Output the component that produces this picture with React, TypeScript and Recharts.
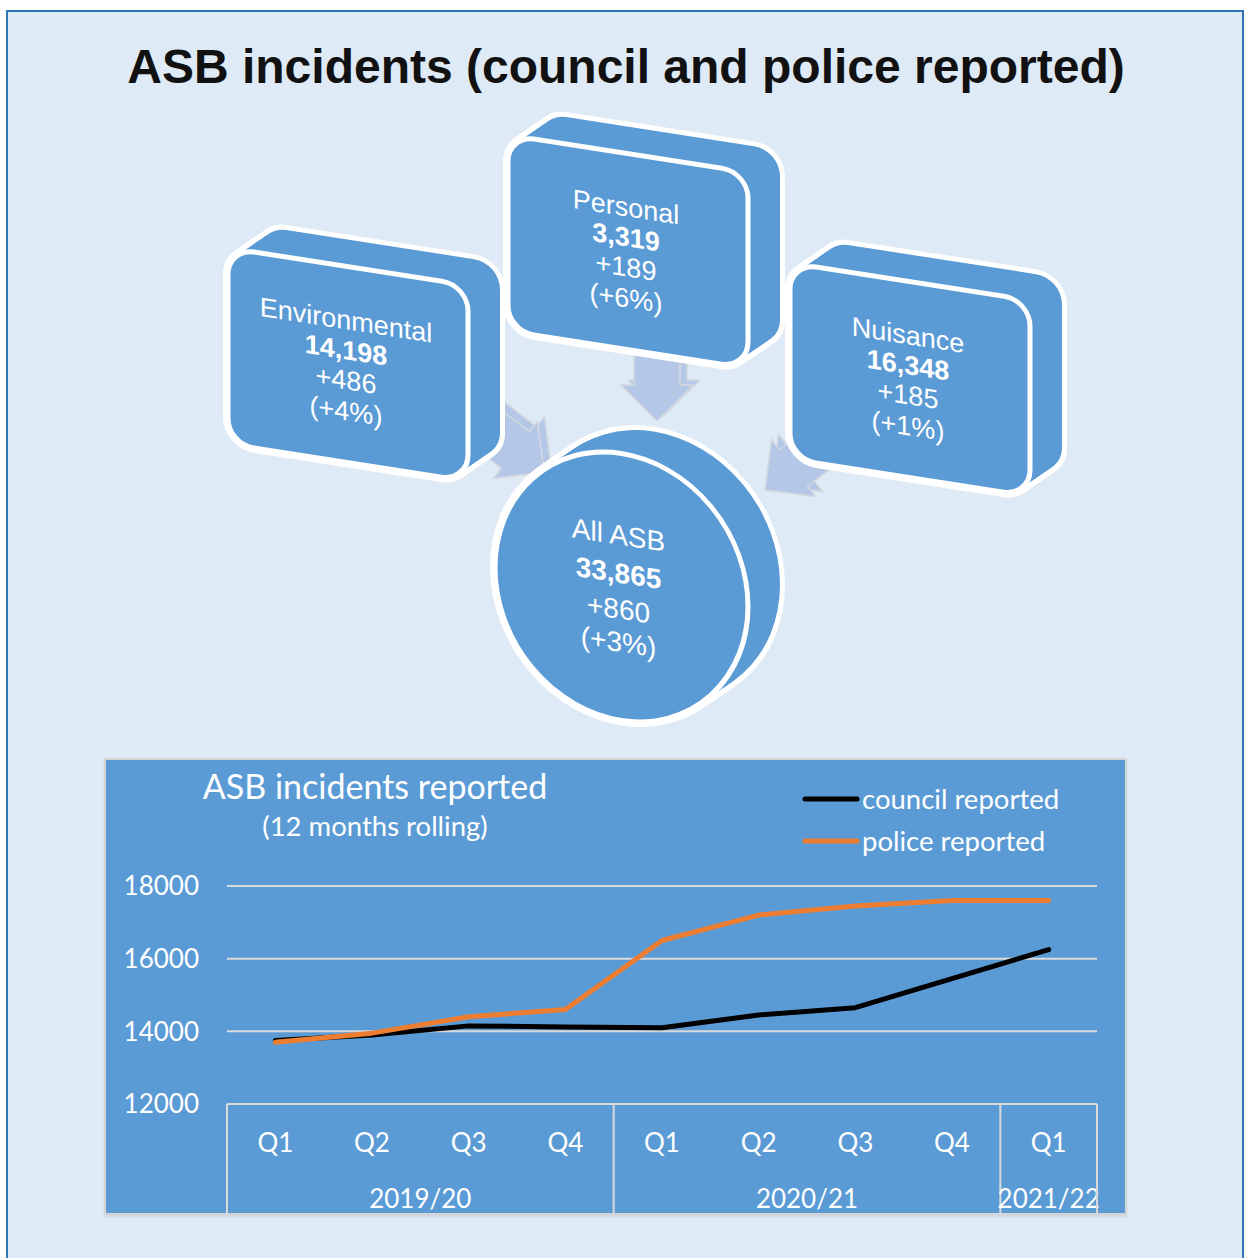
import React from 'react';
import { LineChart, Line, XAxis, YAxis, CartesianGrid } from 'recharts';

// line chart data
const quarters = ['Q1', 'Q2', 'Q3', 'Q4', 'Q1', 'Q2', 'Q3', 'Q4', 'Q1'];
const years = ['2019/20', '2019/20', '2019/20', '2019/20', '2020/21', '2020/21', '2020/21', '2020/21', '2021/22'];
const council = [13750, 13900, 14150, 14120, 14100, 14450, 14650, 15450, 16250];
const police = [13700, 13950, 14400, 14600, 16500, 17200, 17450, 17600, 17600];
const yTicks = [12000, 14000, 16000, 18000];

// infographic figures
const categories = ['Environmental', 'Personal', 'Nuisance'];
const totals = ['14,198', '3,319', '16,348'];
const changes = ['+486', '+189', '+185'];
const percents = ['(+4%)', '(+6%)', '(+1%)'];
const overall = ['All ASB', '33,865', '+860', '(+3%)'];

const data = quarters.map((q, i) => ({
  period: `${years[i]} ${q}`,
  council: council[i],
  police: police[i],
}));

const FONT = "Lato, 'Open Sans', sans-serif";
const ARIAL = "'Liberation Sans', Arial, sans-serif";
const BLUE = '#5b9bd5';
const GRID = '#d9d9d9';
const SKEW = 8.8;
const TAN = Math.tan((SKEW * Math.PI) / 180);
const depth = { x: 32, y: -22 - 32 * TAN };
const steps = Array.from({ length: 17 }, (_, k) => k / 16);

const Box = ({ x, y, idx }: { x: number; y: number; idx: number }) => {
  const w = 240, h = 196, r = 26;
  const lines = [categories[idx], totals[idx], changes[idx], percents[idx]];
  const offs = [-45, -15, 15, 46];
  return (
    <g transform={`translate(${x},${y}) skewY(${SKEW})`}>
      {steps.map((t) => (
        <rect key={'o' + t} x={t * depth.x} y={t * depth.y} width={w} height={h} rx={r} fill="#fff" stroke="#fff" strokeWidth={10} />
      ))}
      {steps.map((t) => (
        <rect key={'f' + t} x={t * depth.x} y={t * depth.y} width={w} height={h} rx={r} fill={BLUE} />
      ))}
      <rect x={0} y={0} width={w} height={h} rx={r} fill={BLUE} stroke="#fff" strokeWidth={5} />
      {lines.map((s, i) => (
        <text key={i} x={w / 2 - 2} y={h / 2 + offs[i] + 10} textAnchor="middle" fill="#fff" fontSize={27}
          fontWeight={i === 1 ? 700 : 400} fontFamily={ARIAL}>{s}</text>
      ))}
    </g>
  );
};

const Disc = ({ cx, cy }: { cx: number; cy: number }) => {
  const rx = 126.5, ry = 133.5;
  const offs = [-52, -14, 22, 55];
  return (
    <g transform={`translate(${cx},${cy}) skewY(${SKEW})`}>
      {steps.map((t) => (
        <ellipse key={'o' + t} cx={t * depth.x} cy={t * depth.y} rx={rx} ry={ry} fill="#fff" stroke="#fff" strokeWidth={10} />
      ))}
      {steps.map((t) => (
        <ellipse key={'f' + t} cx={t * depth.x} cy={t * depth.y} rx={rx} ry={ry} fill={BLUE} />
      ))}
      <ellipse cx={0} cy={0} rx={rx} ry={ry} fill={BLUE} stroke="#fff" strokeWidth={5} />
      {overall.map((s, i) => (
        <text key={i} x={-3} y={offs[i] + 10} textAnchor="middle" fill="#fff" fontSize={28}
          fontWeight={i === 1 ? 700 : 400} fontFamily={ARIAL}>{s}</text>
      ))}
    </g>
  );
};

const arrowPts = (tx: number, ty: number, dx: number, dy: number, headLen: number, headW: number, shaftW: number, shaftLen: number) => {
  const n = Math.hypot(dx, dy);
  const ux = dx / n, uy = dy / n, px = -uy, py = ux;
  const bx = tx - ux * headLen, by = ty - uy * headLen;
  const sx = bx - ux * shaftLen, sy = by - uy * shaftLen;
  const pts = [
    [tx, ty],
    [bx + px * headW / 2, by + py * headW / 2],
    [bx + px * shaftW / 2, by + py * shaftW / 2],
    [sx + px * shaftW / 2, sy + py * shaftW / 2],
    [sx - px * shaftW / 2, sy - py * shaftW / 2],
    [bx - px * shaftW / 2, by - py * shaftW / 2],
    [bx - px * headW / 2, by - py * headW / 2],
  ];
  return pts.map((p) => p.join(',')).join(' ');
};

const Arrow = (p: { tx: number; ty: number; dx: number; dy: number }) => {
  const pts = arrowPts(p.tx, p.ty, p.dx, p.dy, 36, 72, 46, 80);
  return (
    <g>
      <polygon points={pts} transform="translate(7,-5)" fill="#b4c7e7" stroke="#d3d8df" strokeWidth={1.5} />
      <polygon points={pts} fill="#b4c7e7" stroke="#d3d8df" strokeWidth={1.5} />
    </g>
  );
};

const QuarterTick = (props: any) => {
  const { x, y, payload, width, visibleTicksCount } = props;
  const i = payload.index;
  const band = payload.offset ? payload.offset * 2 : width / visibleTicksCount;
  const start = i === 0 || years[i] !== years[i - 1];
  let groupLen = 0;
  if (start) {
    let j = i;
    while (j < years.length && years[j] === years[i]) j++;
    groupLen = j - i;
  }
  const left = x - band / 2;
  return (
    <g>
      <text x={x} y={y + 38} textAnchor="middle" dominantBaseline="central" fill="#fff" fontSize={26} fontFamily={FONT}>
        {quarters[i]}
      </text>
      {start && <line x1={left} x2={left} y1={y} y2={y + 111} stroke={GRID} strokeWidth={2} />}
      {start && (
        <text x={left + (groupLen * band) / 2} y={y + 94} textAnchor="middle" dominantBaseline="central" fill="#fff" fontSize={26} fontFamily={FONT}>
          {years[i]}
        </text>
      )}
      {i === years.length - 1 && <line x1={x + band / 2} x2={x + band / 2} y1={y} y2={y + 111} stroke={GRID} strokeWidth={2} />}
    </g>
  );
};

const legendItems = [
  { label: 'council reported', color: '#000' },
  { label: 'police reported', color: '#ed7d31' },
];

const LegendBox = () => (
  <div style={{ position: 'absolute', left: 696, top: 18, fontFamily: FONT, fontSize: 27.5, color: '#fff', whiteSpace: 'nowrap' }}>
    {legendItems.map((e) => (
      <div key={e.label} style={{ display: 'flex', alignItems: 'center', height: 42 }}>
        <svg width={58} height={10}>
          <line x1={3} x2={55} y1={5} y2={5} stroke={e.color} strokeWidth={5} strokeLinecap="round" />
        </svg>
        <span style={{ marginLeft: 2, lineHeight: '42px' }}>{e.label}</span>
      </div>
    ))}
  </div>
);

export default function App() {
  return (
    <div style={{ position: 'absolute', left: 0, top: 0, width: 1245, height: 1258, background: '#fff', overflow: 'hidden' }}>
      <div style={{ position: 'absolute', left: 6, top: 10, width: 1238, height: 1270, boxSizing: 'border-box', border: '2.5px solid #2e75b6', background: '#deeaf6' }} />
      <svg width={1245} height={745} style={{ position: 'absolute', left: 0, top: 0 }}>
        <text x={626} y={83} textAnchor="middle" fontFamily={ARIAL} fontWeight={700} fontSize={48} fill="#111">
          ASB incidents (council and police reported)
        </text>
        <Arrow tx={657} ty={421} dx={0} dy={1} />
        <Arrow tx={544} ty={472} dx={0.79} dy={0.61} />
        <Arrow tx={765} ty={490} dx={-0.79} dy={0.61} />
        <Box x={228} y={248} idx={0} />
        <Box x={508} y={135} idx={1} />
        <Box x={790} y={263} idx={2} />
        <Disc cx={621.5} cy={587} />
      </svg>
      <div style={{ position: 'absolute', left: 104, top: 758, width: 1023, height: 457, boxSizing: 'border-box', background: BLUE, border: '2px solid #d4d4d4', boxShadow: '0 2px 2px rgba(0,0,0,0.08)' }}>
        <div style={{ position: 'absolute', left: 69, top: 6, width: 400, textAlign: 'center', fontFamily: FONT, color: '#fff', fontSize: 34, lineHeight: '40px', whiteSpace: 'nowrap' }}>
          ASB incidents reported
        </div>
        <div style={{ position: 'absolute', left: 69, top: 50, width: 400, textAlign: 'center', fontFamily: FONT, color: '#fff', fontSize: 27.5, lineHeight: '32px', whiteSpace: 'nowrap' }}>
          (12 months rolling)
        </div>
        <div style={{ position: 'absolute', left: -2, top: -2 }}>
          <LineChart width={1023} height={457} data={data} margin={{ top: 128, right: 30, bottom: 0, left: 0 }}>
            <CartesianGrid vertical={false} stroke={GRID} strokeWidth={2} />
            <XAxis dataKey="period" scale="band" interval={0} height={111} tickSize={0} tickMargin={0}
              axisLine={{ stroke: GRID, strokeWidth: 2 }} tickLine={false} tick={<QuarterTick />} />
            <YAxis domain={[12000, 18000]} ticks={yTicks} width={123} axisLine={false} tickLine={false} tickMargin={22}
              tick={{ fill: '#fff', fontSize: 26, fontFamily: FONT }} />
            <Line dataKey="council" stroke="#000" strokeWidth={5} dot={false} strokeLinecap="round" strokeLinejoin="round" isAnimationActive={false} />
            <Line dataKey="police" stroke="#ed7d31" strokeWidth={5} dot={false} strokeLinecap="round" strokeLinejoin="round" isAnimationActive={false} />
          </LineChart>
        </div>
        <LegendBox />
      </div>
    </div>
  );
}
